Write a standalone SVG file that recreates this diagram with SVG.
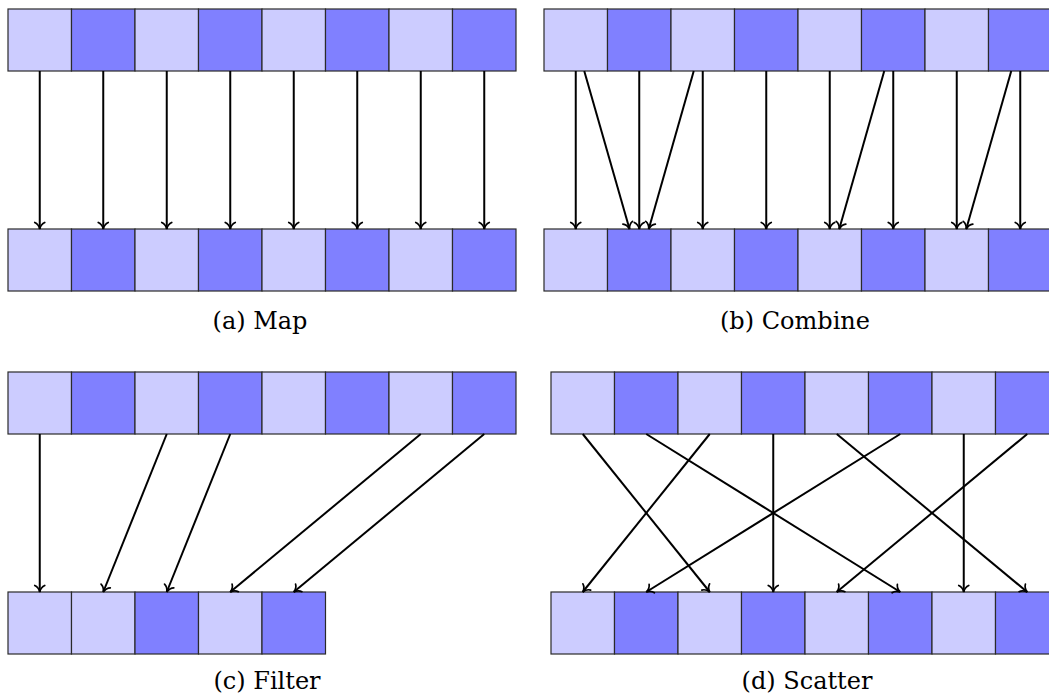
<svg xmlns="http://www.w3.org/2000/svg" width="1049" height="699" viewBox="0 0 1049 699">
  <style>
    .lt { fill: #ccccff; stroke: #2a2a2a; stroke-width: 1.2; }
    .dk { fill: #8080ff; stroke: #2a2a2a; stroke-width: 1.2; }
    .ar { fill: none; stroke: #000000; stroke-width: 2; marker-end: url(#tip); }
  </style>
  <defs>
    <marker id="tip" markerUnits="userSpaceOnUse" markerWidth="16" markerHeight="16" viewBox="-8 -8 16 16" refX="0" refY="0" orient="auto" overflow="visible">
      <path d="M-6.5,-5 C-5.3,-2.1 -2.1,-0.5 0,0 C-2.1,0.5 -5.3,2.1 -6.5,5" fill="none" stroke="#000000" stroke-width="1.7" stroke-linecap="round"/>
    </marker>
  </defs>

  <rect width="1049" height="699" fill="#ffffff"/>

  <!-- (a) Map: input and output rows -->
  <g id="map-in">
    <g id="map-in-0"><rect class="lt" x="8" y="9" width="63.5" height="62"/></g>
    <g id="map-in-1"><rect class="dk" x="71.5" y="9" width="63.5" height="62"/></g>
    <g id="map-in-2"><rect class="lt" x="135" y="9" width="63.5" height="62"/></g>
    <g id="map-in-3"><rect class="dk" x="198.5" y="9" width="63.5" height="62"/></g>
    <g id="map-in-4"><rect class="lt" x="262" y="9" width="63.5" height="62"/></g>
    <g id="map-in-5"><rect class="dk" x="325.5" y="9" width="63.5" height="62"/></g>
    <g id="map-in-6"><rect class="lt" x="389" y="9" width="63.5" height="62"/></g>
    <g id="map-in-7"><rect class="dk" x="452.5" y="9" width="63.5" height="62"/></g>
  </g>
  <g id="map-out">
    <g id="map-out-0"><rect class="lt" x="8" y="229" width="63.5" height="62"/></g>
    <g id="map-out-1"><rect class="dk" x="71.5" y="229" width="63.5" height="62"/></g>
    <g id="map-out-2"><rect class="lt" x="135" y="229" width="63.5" height="62"/></g>
    <g id="map-out-3"><rect class="dk" x="198.5" y="229" width="63.5" height="62"/></g>
    <g id="map-out-4"><rect class="lt" x="262" y="229" width="63.5" height="62"/></g>
    <g id="map-out-5"><rect class="dk" x="325.5" y="229" width="63.5" height="62"/></g>
    <g id="map-out-6"><rect class="lt" x="389" y="229" width="63.5" height="62"/></g>
    <g id="map-out-7"><rect class="dk" x="452.5" y="229" width="63.5" height="62"/></g>
  </g>

  <!-- (b) Combine -->
  <g id="comb-in">
    <g id="comb-in-0"><rect class="lt" x="544" y="9" width="63.5" height="62"/></g>
    <g id="comb-in-1"><rect class="dk" x="607.5" y="9" width="63.5" height="62"/></g>
    <g id="comb-in-2"><rect class="lt" x="671" y="9" width="63.5" height="62"/></g>
    <g id="comb-in-3"><rect class="dk" x="734.5" y="9" width="63.5" height="62"/></g>
    <g id="comb-in-4"><rect class="lt" x="798" y="9" width="63.5" height="62"/></g>
    <g id="comb-in-5"><rect class="dk" x="861.5" y="9" width="63.5" height="62"/></g>
    <g id="comb-in-6"><rect class="lt" x="925" y="9" width="63.5" height="62"/></g>
    <g id="comb-in-7"><rect class="dk" x="988.5" y="9" width="63.5" height="62"/></g>
  </g>
  <g id="comb-out">
    <g id="comb-out-0"><rect class="lt" x="544" y="229" width="63.5" height="62"/></g>
    <g id="comb-out-1"><rect class="dk" x="607.5" y="229" width="63.5" height="62"/></g>
    <g id="comb-out-2"><rect class="lt" x="671" y="229" width="63.5" height="62"/></g>
    <g id="comb-out-3"><rect class="dk" x="734.5" y="229" width="63.5" height="62"/></g>
    <g id="comb-out-4"><rect class="lt" x="798" y="229" width="63.5" height="62"/></g>
    <g id="comb-out-5"><rect class="dk" x="861.5" y="229" width="63.5" height="62"/></g>
    <g id="comb-out-6"><rect class="lt" x="925" y="229" width="63.5" height="62"/></g>
    <g id="comb-out-7"><rect class="dk" x="988.5" y="229" width="63.5" height="62"/></g>
  </g>

  <!-- (c) Filter -->
  <g id="filt-in">
    <g id="filt-in-0"><rect class="lt" x="8" y="372" width="63.5" height="62"/></g>
    <g id="filt-in-1"><rect class="dk" x="71.5" y="372" width="63.5" height="62"/></g>
    <g id="filt-in-2"><rect class="lt" x="135" y="372" width="63.5" height="62"/></g>
    <g id="filt-in-3"><rect class="dk" x="198.5" y="372" width="63.5" height="62"/></g>
    <g id="filt-in-4"><rect class="lt" x="262" y="372" width="63.5" height="62"/></g>
    <g id="filt-in-5"><rect class="dk" x="325.5" y="372" width="63.5" height="62"/></g>
    <g id="filt-in-6"><rect class="lt" x="389" y="372" width="63.5" height="62"/></g>
    <g id="filt-in-7"><rect class="dk" x="452.5" y="372" width="63.5" height="62"/></g>
  </g>
  <g id="filt-out">
    <g id="filt-out-0"><rect class="lt" x="8" y="592" width="63.5" height="62"/></g>
    <g id="filt-out-1"><rect class="lt" x="71.5" y="592" width="63.5" height="62"/></g>
    <g id="filt-out-2"><rect class="dk" x="135" y="592" width="63.5" height="62"/></g>
    <g id="filt-out-3"><rect class="lt" x="198.5" y="592" width="63.5" height="62"/></g>
    <g id="filt-out-4"><rect class="dk" x="262" y="592" width="63.5" height="62"/></g>
  </g>

  <!-- (d) Scatter -->
  <g id="scat-in">
    <g id="scat-in-0"><rect class="lt" x="551" y="372" width="63.5" height="62"/></g>
    <g id="scat-in-1"><rect class="dk" x="614.5" y="372" width="63.5" height="62"/></g>
    <g id="scat-in-2"><rect class="lt" x="678" y="372" width="63.5" height="62"/></g>
    <g id="scat-in-3"><rect class="dk" x="741.5" y="372" width="63.5" height="62"/></g>
    <g id="scat-in-4"><rect class="lt" x="805" y="372" width="63.5" height="62"/></g>
    <g id="scat-in-5"><rect class="dk" x="868.5" y="372" width="63.5" height="62"/></g>
    <g id="scat-in-6"><rect class="lt" x="932" y="372" width="63.5" height="62"/></g>
    <g id="scat-in-7"><rect class="dk" x="995.5" y="372" width="63.5" height="62"/></g>
  </g>
  <g id="scat-out">
    <g id="scat-out-0"><rect class="lt" x="551" y="592" width="63.5" height="62"/></g>
    <g id="scat-out-1"><rect class="dk" x="614.5" y="592" width="63.5" height="62"/></g>
    <g id="scat-out-2"><rect class="lt" x="678" y="592" width="63.5" height="62"/></g>
    <g id="scat-out-3"><rect class="dk" x="741.5" y="592" width="63.5" height="62"/></g>
    <g id="scat-out-4"><rect class="lt" x="805" y="592" width="63.5" height="62"/></g>
    <g id="scat-out-5"><rect class="dk" x="868.5" y="592" width="63.5" height="62"/></g>
    <g id="scat-out-6"><rect class="lt" x="932" y="592" width="63.5" height="62"/></g>
    <g id="scat-out-7"><rect class="dk" x="995.5" y="592" width="63.5" height="62"/></g>
  </g>

  <!-- connectors -->
  <g id="connectors">
    <!-- map: one-to-one -->
    <line class="ar" x1="39.75" y1="71" x2="39.75" y2="229"/>
    <line class="ar" x1="103.25" y1="71" x2="103.25" y2="229"/>
    <line class="ar" x1="166.75" y1="71" x2="166.75" y2="229"/>
    <line class="ar" x1="230.25" y1="71" x2="230.25" y2="229"/>
    <line class="ar" x1="293.75" y1="71" x2="293.75" y2="229"/>
    <line class="ar" x1="357.25" y1="71" x2="357.25" y2="229"/>
    <line class="ar" x1="420.75" y1="71" x2="420.75" y2="229"/>
    <line class="ar" x1="484.25" y1="71" x2="484.25" y2="229"/>

    <!-- combine: one-to-one plus neighbour merges -->
    <line class="ar" x1="575.75" y1="71" x2="575.75" y2="229"/>
    <line class="ar" x1="639.25" y1="71" x2="639.25" y2="229"/>
    <line class="ar" x1="702.75" y1="71" x2="702.75" y2="229"/>
    <line class="ar" x1="766.25" y1="71" x2="766.25" y2="229"/>
    <line class="ar" x1="829.75" y1="71" x2="829.75" y2="229"/>
    <line class="ar" x1="893.25" y1="71" x2="893.25" y2="229"/>
    <line class="ar" x1="956.75" y1="71" x2="956.75" y2="229"/>
    <line class="ar" x1="1020.25" y1="71" x2="1020.25" y2="229"/>
    <line class="ar" x1="584.25" y1="71" x2="629.5" y2="229"/>
    <line class="ar" x1="693.75" y1="71" x2="648.75" y2="229"/>
    <line class="ar" x1="884.25" y1="71" x2="839.25" y2="229"/>
    <line class="ar" x1="1011.25" y1="71" x2="966.25" y2="229"/>

    <!-- filter: kept elements packed left -->
    <line class="ar" x1="39.75" y1="434" x2="39.75" y2="592"/>
    <line class="ar" x1="166.75" y1="434" x2="103.25" y2="592"/>
    <line class="ar" x1="230.25" y1="434" x2="166.75" y2="592"/>
    <line class="ar" x1="420.75" y1="434" x2="230.25" y2="592"/>
    <line class="ar" x1="484.25" y1="434" x2="293.75" y2="592"/>

    <!-- scatter: permutation -->
    <line class="ar" x1="582.75" y1="434" x2="709.75" y2="592"/>
    <line class="ar" x1="646.25" y1="434" x2="900.25" y2="592"/>
    <line class="ar" x1="709.75" y1="434" x2="582.75" y2="592"/>
    <line class="ar" x1="773.25" y1="434" x2="773.25" y2="592"/>
    <line class="ar" x1="836.75" y1="434" x2="1027.25" y2="592"/>
    <line class="ar" x1="900.25" y1="434" x2="646.25" y2="592"/>
    <line class="ar" x1="963.75" y1="434" x2="963.75" y2="592"/>
    <line class="ar" x1="1027.25" y1="434" x2="836.75" y2="592"/>
  </g>

  <!-- captions -->
  <g id="captions" font-family="'DejaVu Serif', 'Liberation Serif', serif" font-size="24" fill="#000000" text-anchor="middle">
    <text x="260" y="329">(a) Map</text>
    <text x="795" y="329">(b) Combine</text>
    <text x="267" y="689">(c) Filter</text>
    <text x="807" y="689">(d) Scatter</text>
  </g>
</svg>
